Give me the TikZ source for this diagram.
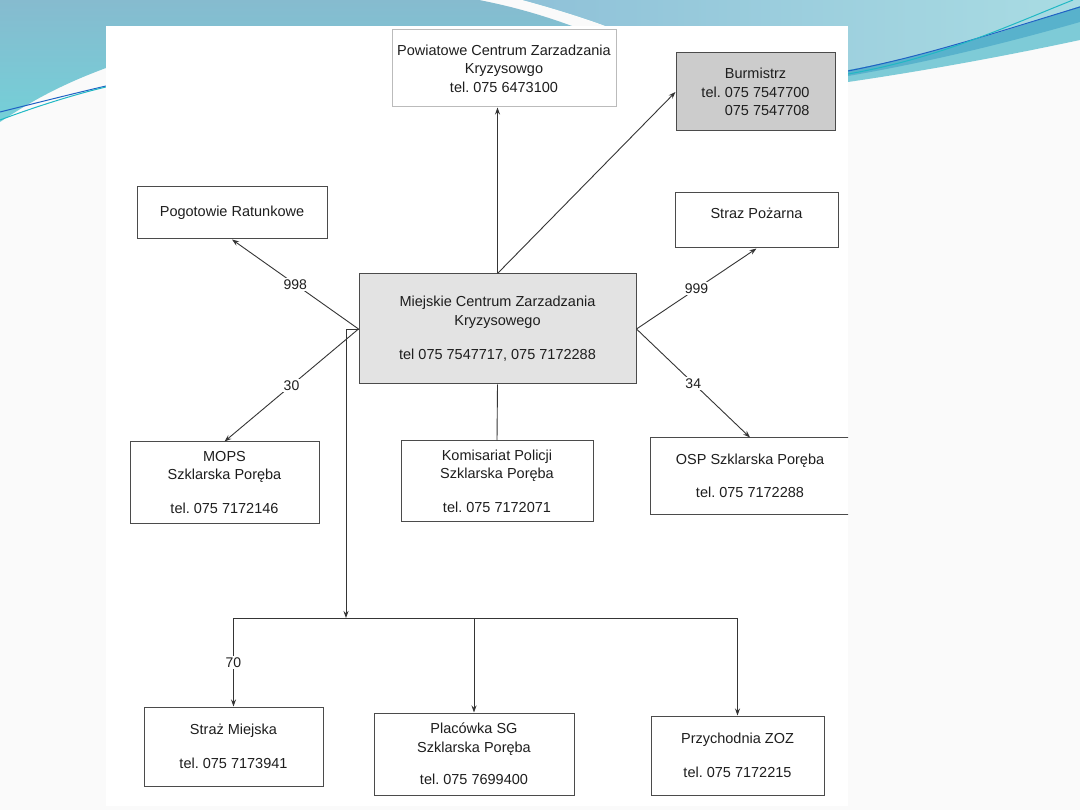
\documentclass[tikz,border=0pt]{standalone}
\usepackage{fontspec}
\setmainfont{Liberation Sans}
\usetikzlibrary{arrows.meta}
\frenchspacing

\definecolor{slideblue}{HTML}{86BBCF}
\definecolor{slidecyan}{HTML}{74D0D8}
\definecolor{slidelight}{HTML}{A9DCE3}
\definecolor{slidedeep}{HTML}{8FC1D8}
\definecolor{slidemid}{HTML}{58B2CC}
\definecolor{slidelow}{HTML}{7ECBD7}
\definecolor{lineblue}{HTML}{2062C4}
\definecolor{linecyan}{HTML}{20B8C4}
\definecolor{ink}{HTML}{1E1E1E}

\tikzset{
  box/.style={draw=ink!80, line width=1pt, fill=white, align=center, inner sep=2pt,
    font=\fontsize{14.5}{18.5}\selectfont, text=ink},
  conn/.style={draw=ink!90, line width=0.9pt},
  arr/.style={conn, -{Stealth[length=7pt,width=5pt]}},
  nr/.style={fill=white, inner sep=1.5pt, font=\fontsize{14}{16}\selectfont, text=ink},
}

\begin{document}
\begin{tikzpicture}[x=1pt,y=-1pt]

  \useasboundingbox (0,0) rectangle (1080,810);

  % slide background
  \fill[white!98!black] (0,0) rectangle (1080,810);
  \shade[top color=slideblue, bottom color=slidecyan]
    (0,0) -- (479,0) .. controls (520,8) and (550,18) .. (572,26) -- (572,70)
    -- (106,70) -- (106,68) .. controls (60,85) and (30,102) .. (0,122) -- cycle;
  \fill[slidelow] (523,0) -- (1080,0) -- (1080,40)
    .. controls (1010,55) and (930,70) .. (848,82) -- (606,82) -- (606,26)
    .. controls (590,20) and (560,10) .. (523,0) -- cycle;
  \fill[slidemid] (606,0) -- (1080,0) -- (1080,22)
    .. controls (1010,42) and (930,62) .. (848,76) -- (606,76) -- cycle;
  \shade[left color=slidedeep, right color=slidelight] (523,0) -- (1080,0) -- (1080,6)
    .. controls (1010,30) and (930,55) .. (848,70) -- (606,70) -- (606,26)
    .. controls (590,20) and (560,10) .. (523,0) -- cycle;
  \draw[lineblue, line width=1pt] (0,112) .. controls (40,102) and (80,92) .. (106,86);
  \draw[linecyan, line width=1pt] (0,120) .. controls (40,105) and (80,93) .. (106,87);
  \draw[lineblue, line width=1pt] (848,71) .. controls (930,55) and (1010,28) .. (1080,7);
  \draw[linecyan, line width=1pt] (848,74) .. controls (940,58) and (1010,25) .. (1073,0);

  % scanned page
  \fill[white] (106,26) rectangle (848,806);

  \node[box, fill=black!11, minimum width=277pt, minimum height=110pt] (mczk) at (497.5,329)
    {Miejskie Centrum Zarzadzania\\ Kryzysowego\\[16pt] tel 075 7547717, 075 7172288};

  \node[box, draw=ink!30, minimum width=224pt, minimum height=77pt] (pczk) at (504,68.5)
    {Powiatowe Centrum Zarzadzania\\ Kryzysowgo\\ tel. 075 6473100};
  \node[box, fill=black!20, minimum width=159pt, minimum height=78pt] (burm) at (755.5,92)
    {Burmistrz\\ tel. 075 7547700\\ \phantom{tel. }075 7547708};

  \node[box, minimum width=190pt, minimum height=52pt] (pogot) at (232,213) {Pogotowie Ratunkowe};
  \node[box, minimum width=163pt, minimum height=55pt] (straz) at (756.5,220.5)
    {Straz Pożarna\\[-3.5pt] \mbox{}};

  \node[box, minimum width=189pt, minimum height=81pt] (mops) at (224.5,482.5)
    {MOPS\\ Szklarska Poręba\\[15pt] tel. 075 7172146};
  \node[box, minimum width=192pt, minimum height=80pt] (policja) at (497,481)
    {Komisariat Policji\\ Szklarska Poręba\\[15pt] tel. 075 7172071};
  \begin{scope}
    \clip (106,26) rectangle (848,806);
    \node[box, minimum width=200pt, minimum height=76pt] (osp) at (750,476)
      {OSP Szklarska Poręba\\[14pt] tel. 075 7172288};
  \end{scope}

  \node[box, minimum width=179pt, minimum height=79pt] (smiejska) at (233.5,746.5)
    {Straż Miejska\\[16pt] tel. 075 7173941};
  \node[box, minimum width=200pt, minimum height=82pt] (sg) at (474,754)
    {Placówka SG\\ Szklarska Poręba\\[14pt] tel. 075 7699400};
  \node[box, minimum width=173pt, minimum height=79pt] (zoz) at (737.5,755.5)
    {Przychodnia ZOZ\\[15pt] tel. 075 7172215};

  % up
  \draw[arr] (mczk.north) -- (mczk.north |- pczk.south);
  \draw[arr] (mczk.north) -- (burm.west);

  % sides
  \draw[arr] (mczk.west) -- (pogot.south) node[nr, midway] {998};
  \draw[arr] (mczk.west) -- (mops.north) node[nr, midway] {30};
  \draw[arr] (mczk.east) -- (straz.south) node[nr, midway] {999};
  \draw[arr] (mczk.east) -- (osp.north) node[nr, midway] {34};
  \draw[conn] (mczk.south) -- (policja.north);

  % down to the bus line
  \coordinate (hook) at (346,329);
  \coordinate (drop) at (346,618);
  \coordinate (bl) at (233.5,618);
  \coordinate (br) at (zoz.north |- bl);
  \draw[arr] (mczk.west) -- (hook) -- (drop);
  \draw[conn] (bl) -- (br);
  \draw[arr] (bl) -- (smiejska.north) node[nr, midway] {70};
  \foreach \n in {sg,zoz}
    \draw[arr] (\n.north |- bl) -- (\n.north);

\end{tikzpicture}
\end{document}
